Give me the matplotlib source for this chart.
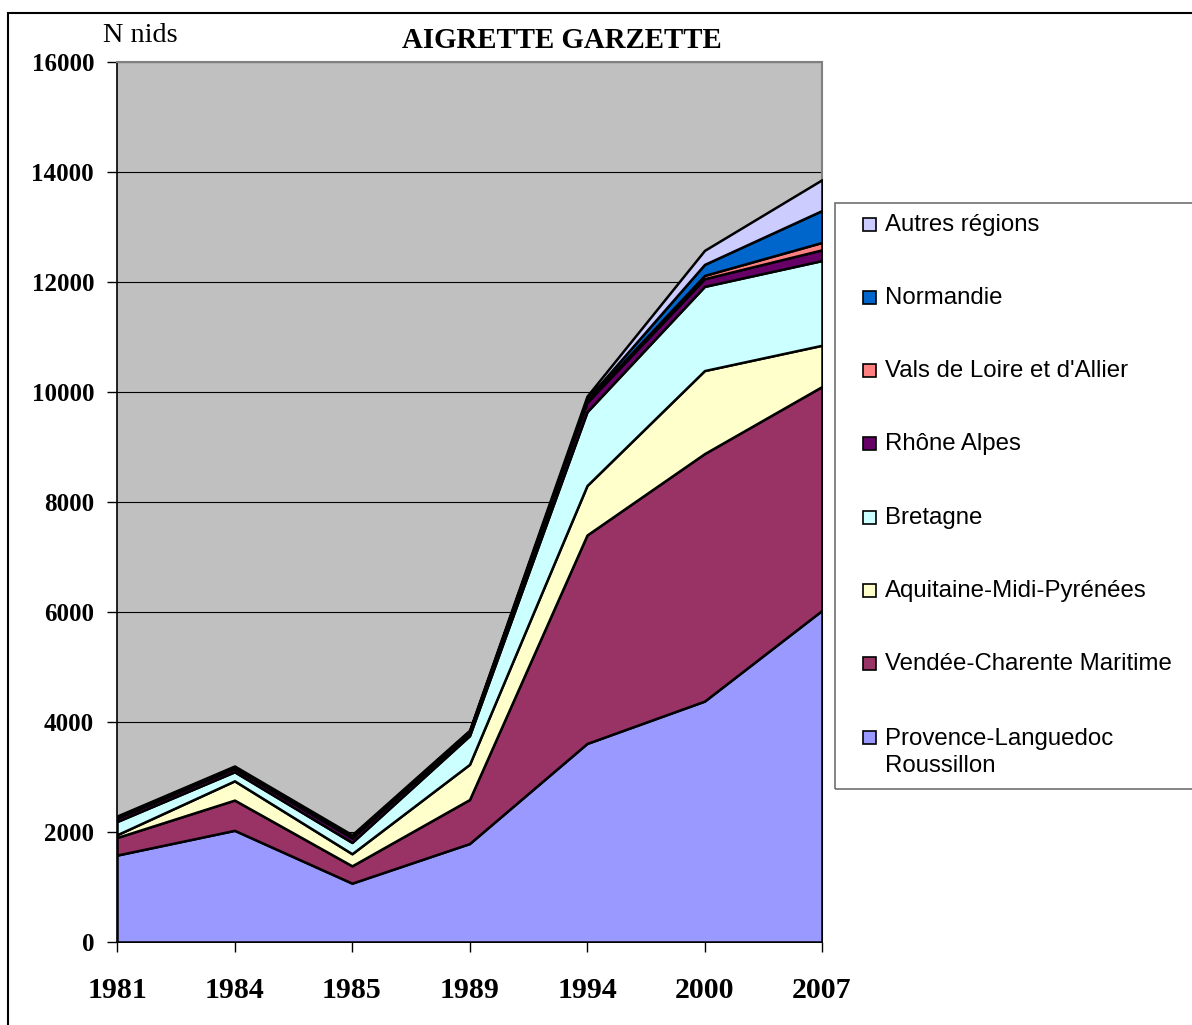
import matplotlib.pyplot as plt
from matplotlib.patches import Rectangle

# data (nests per region, stacked)
years = ['1981', '1984', '1985', '1989', '1994', '2000', '2007']
provence = [1580, 2030, 1070, 1790, 3610, 4380, 6030]
vendee = [320, 550, 315, 800, 3790, 4500, 4070]
aquitaine = [50, 350, 220, 640, 900, 1510, 750]
bretagne = [240, 165, 205, 520, 1340, 1530, 1540]
rhone = [60, 60, 80, 60, 170, 140, 195]
vals = [10, 10, 10, 10, 30, 60, 135]
normandie = [10, 10, 15, 10, 30, 200, 580]
autres = [20, 25, 35, 20, 55, 255, 560]

labels = ['Provence-Languedoc\nRoussillon', 'Vendée-Charente Maritime',
          'Aquitaine-Midi-Pyrénées', 'Bretagne', 'Rhône Alpes',
          "Vals de Loire et d'Allier", 'Normandie', 'Autres régions']
colors = ['#9999FF', '#993366', '#FFFFCC', '#CCFFFF', '#660066',
          '#FF8080', '#0066CC', '#CCCCFF']

W, H = 1192, 1025
fig = plt.figure(figsize=(W / 100, H / 100), dpi=100)
ax = fig.add_axes([117 / W, 1 - 942 / H, (822 - 117) / W, (942 - 62) / H])
ax.set_facecolor('#C0C0C0')

x = list(range(len(years)))
ax.stackplot(x, provence, vendee, aquitaine, bretagne, rhone, vals,
             normandie, autres, colors=colors, edgecolor='black',
             linewidth=1.8, zorder=3)

ax.set_xlim(0, len(years) - 1)
ax.set_ylim(0, 16000)
ax.set_yticks(range(0, 16001, 2000))
ax.set_xticks(x)
ax.set_xticklabels(years)
ax.yaxis.grid(True, color='black', linewidth=0.8, zorder=1)
ax.set_axisbelow(True)

for lab in ax.get_yticklabels():
    lab.set_fontfamily('Liberation Serif')
    lab.set_fontweight('bold')
    lab.set_fontsize(18)
for lab in ax.get_xticklabels():
    lab.set_fontfamily('Liberation Serif')
    lab.set_fontweight('bold')
    lab.set_fontsize(21.5)
ax.tick_params(axis='y', length=7, width=1, pad=9.5)
ax.tick_params(axis='x', length=7, width=1, pad=18)

ax.spines['left'].set_linewidth(1.2)
ax.spines['bottom'].set_linewidth(1.2)
ax.spines['top'].set_color('#808080')
ax.spines['right'].set_color('#808080')
ax.spines['top'].set_linewidth(1.5)
ax.spines['right'].set_linewidth(1.5)

fig.text(562 / W, 1 - 41 / H, 'AIGRETTE GARZETTE', ha='center', va='center',
         family='Liberation Serif', fontweight='bold', fontsize=20.8)
fig.text(103 / W, 1 - 36 / H, 'N nids', ha='left', va='center',
         family='Liberation Serif', fontsize=20.3)

# outer frame of the chart
fig.patches.append(Rectangle((8 / W, -0.1), 1.2, 1 - 13 / H + 0.1,
                             transform=fig.transFigure, fill=False,
                             edgecolor='black', linewidth=1.5))
# legend frame
fig.patches.append(Rectangle((835 / W, 1 - 789 / H), (1195 - 835) / W,
                             (789 - 203) / H, transform=fig.transFigure,
                             fill=False, edgecolor='#707070', linewidth=1.2))

# legend entries, top entry = last series
for i, (lab, col) in enumerate(zip(labels[::-1], colors[::-1])):
    yc = 224 + 73.3 * i
    fig.patches.append(Rectangle((863 / W, 1 - (yc + 6.5) / H), 13 / W, 13 / H,
                                 transform=fig.transFigure, facecolor=col,
                                 edgecolor='black', linewidth=1.2))
    extra = 28 * lab.count('\n')  # baseline is taken from the last line
    fig.text(885 / W, 1 - (yc + 6.5 + extra) / H, lab, ha='left', va='baseline',
             family='Liberation Sans', fontsize=17.3, linespacing=1.3)

fig.savefig('out.png', dpi=100)
